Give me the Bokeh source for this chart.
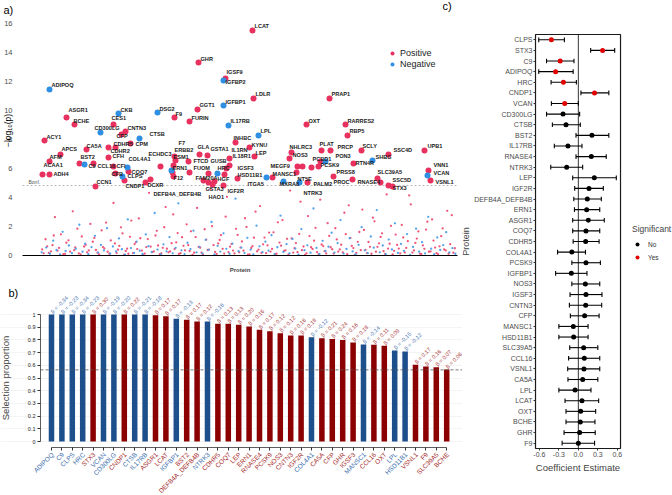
from bokeh.plotting import figure
from bokeh.layouts import row, column
from bokeh.models import ColumnDataSource, Range1d, FixedTicker, Label, Legend, LegendItem
from bokeh.embed import file_html
from bokeh.resources import INLINE
from bokeh.core.properties import value

FONT = "Liberation Sans"

# ---------------- panel a data ----------------
# labelled proteins: (name, direction, protein rank, -log10 p)
A_LABELLED = [
    ("ADIPOQ", -1, 63, 11.45), ("GHR", 1, 1106, 13.31), ("LCAT", 1, 1484, 15.52),
    ("IGSF9", 1, 1295, 12.21), ("IGFBP2", -1, 1281, 12.07), ("LDLR", 1, 1491, 10.83),
    ("IGFBP1", -1, 1281, 10.34), ("PRAP1", 1, 2023, 10.83), ("ASGR1", 1, 182, 9.52),
    ("BCHE", 1, 238, 9.03), ("CKB", -1, 546, 9.79), ("CES1", 1, 511, 9.03),
    ("CD300LG", -1, 420, 8.48), ("CNTN3", 1, 595, 8.55), ("CFP", 1, 567, 8.34),
    ("CTSB", -1, 693, 8.07), ("DSG2", -1, 819, 9.86), ("F9", 1, 938, 9.52),
    ("GGT1", 1, 1099, 10.07), ("FURIN", 1, 1043, 9.24), ("IL17RB", -1, 1316, 8.97),
    ("LPL", -1, 1526, 8.28), ("OXT", 1, 1862, 9.03), ("RARRES2", 1, 2135, 9.03),
    ("RBP5", 1, 2149, 8.28), ("ACY1", 1, 28, 7.93), ("CA5A", 1, 322, 7.31),
    ("APCS", 1, 140, 6.97), ("AFM", 1, 63, 6.48), ("CDHR5", 1, 525, 7.45),
    ("CDHR2", 1, 476, 7.45), ("CPM", 1, 630, 7.72), ("CFH", 1, 476, 6.76),
    ("COL4A1", -1, 609, 6.07), ("ECHDC3", 1, 840, 6.14), ("F7", 1, 945, 6.55),
    ("ERBB2", 1, 938, 6.83), ("GLA", 1, 1113, 6.97), ("GSTA1", 1, 1169, 6.90),
    ("INHBC", 1, 1365, 7.79), ("KYNU", 1, 1463, 7.45), ("IL1RN", 1, 1323, 6.69),
    ("LEP", 1, 1498, 6.83), ("IL18R1", 1, 1323, 6.21), ("IGSF3", 1, 1302, 6.00),
    ("NHLRC3", 1, 1757, 7.10), ("NOS3", 1, 1743, 6.69), ("PLAT", 1, 1967, 7.24),
    ("PRCP", 1, 2030, 7.24), ("PCBD1", 1, 1960, 6.48), ("PON3", -1, 1995, 6.48),
    ("PCSK9", 1, 1946, 6.14), ("SCLY", 1, 2247, 7.24), ("SHBG", -1, 2324, 6.55),
    ("SSC4D", 1, 2436, 6.97), ("UPB1", 1, 2688, 7.24), ("RTN4R", 1, 2191, 6.34),
    ("VNN1", 1, 2716, 5.86), ("VCAN", -1, 2709, 5.52), ("VSNL1", 1, 2730, 5.17),
    ("PRSS8", 1, 2051, 5.45), ("PROC", 1, 2184, 5.24), ("RNASE4", 1, 2359, 5.31),
    ("SLC39A5", 1, 2380, 5.03), ("SSC5D", 1, 2436, 4.83), ("STX3", 1, 2464, 4.76),
    ("MEGF9", 1, 1624, 5.38), ("MANSC1", -1, 1582, 5.38), ("MXRA8", -1, 1701, 5.10),
    ("NTRK3", -1, 1813, 5.03), ("NT5E", 1, 1792, 5.72), ("PALM2", 1, 1869, 5.03),
    ("HSD11B1", 1, 1288, 5.59), ("ITGA5", 1, 1379, 5.31), ("IGF2R", 1, 1281, 4.83),
    ("HRC", -1, 1239, 5.66), ("HGF", 1, 1218, 5.10), ("GUSB", 1, 1176, 5.66),
    ("GSTA3", 1, 1176, 5.03), ("HAO1", 1, 1204, 4.90), ("FAM20A", 1, 1141, 5.17),
    ("FUOM", 1, 1043, 5.72), ("FTCD", 1, 1036, 6.48), ("ERN1", 1, 924, 5.72),
    ("ESM1", 1, 931, 6.21), ("F12", 1, 931, 5.45), ("CCN1", 1, 385, 4.76),
    ("CNDP1", 1, 588, 5.17), ("CLPS", -1, 574, 5.45), ("CFB", 1, 525, 5.66),
    ("COQ7", 1, 616, 5.79), ("CFI", 1, 511, 6.14), ("CCL16", 1, 371, 6.34),
    ("BST2", 1, 273, 6.34), ("C9", -1, 308, 6.28), ("ACAA1", 1, 14, 5.59),
    ("ADH4", 1, 63, 5.59), ("DEFB4A_DEFB4B", 1, 770, 5.24), ("DCXR", 1, 735, 5.03),
    ("", 1, 1799, 6.14), ("", 1, 1834, 6.14), ("", 1, 1897, 6.07), ("", -1, 917, 5.86),
]

# remaining proteins (rank, -log10 p), positive and negative association
A_BG_POS = [
    (12, 0.42), (35, 1.12), (58, 0.18), (84, 0.71), (101, 2.64), (119, 0.33), (143, 1.46), (160, 0.09), (181, 0.88), (207, 0.27),
    (226, 3.05), (243, 0.56), (268, 0.14), (289, 1.31), (305, 0.62), (327, 0.21), (349, 2.18), (366, 0.95), (388, 0.38), (410, 0.07),
    (428, 1.73), (447, 0.49), (470, 0.26), (492, 1.04), (511, 3.62), (533, 0.17), (552, 0.66), (574, 1.52), (597, 0.31), (615, 0.12),
    (636, 2.41), (659, 0.79), (677, 0.44), (699, 1.19), (718, 0.05), (741, 0.58), (760, 4.32), (782, 0.23), (805, 1.38), (823, 0.69),
    (846, 0.15), (866, 1.95), (885, 0.47), (907, 0.28), (929, 2.83), (950, 0.91), (969, 0.11), (991, 1.26), (1012, 0.36), (1034, 0.72),
    (1053, 1.67), (1075, 0.19), (1096, 3.28), (1118, 0.54), (1137, 0.08), (1160, 1.09), (1180, 0.41), (1201, 2.02), (1222, 0.25), (1244, 0.83),
    (1263, 1.41), (1286, 0.13), (1305, 4.05), (1327, 0.61), (1348, 0.34), (1369, 1.84), (1391, 0.22), (1410, 0.97), (1432, 2.57), (1452, 0.06),
    (1475, 0.52), (1494, 1.23), (1516, 0.29), (1537, 3.41), (1558, 0.77), (1579, 0.16), (1600, 1.58), (1621, 0.45), (1643, 0.10), (1662, 2.29),
    (1684, 0.68), (1705, 0.32), (1726, 1.15), (1747, 4.48), (1769, 0.20), (1788, 0.86), (1811, 1.49), (1830, 0.37), (1852, 0.04), (1873, 2.72),
    (1894, 0.57), (1915, 1.02), (1936, 0.24), (1958, 3.85), (1979, 0.65), (2000, 0.14), (2021, 1.35), (2042, 0.43), (2064, 1.88), (2084, 0.27),
    (2105, 0.74), (2127, 2.95), (2147, 0.09), (2169, 1.21), (2190, 0.51), (2211, 0.18), (2232, 1.62), (2253, 3.17), (2275, 0.39), (2296, 0.93),
    (2317, 0.12), (2338, 2.36), (2359, 0.60), (2381, 1.28), (2401, 0.30), (2423, 4.21), (2444, 0.81), (2465, 0.07), (2486, 1.44), (2508, 0.48),
    (2529, 2.11), (2550, 0.21), (2571, 0.99), (2592, 3.52), (2614, 0.35), (2634, 1.17), (2656, 0.13), (2677, 0.70), (2699, 1.79), (2719, 0.26),
    (2741, 2.49), (2762, 0.55), (2783, 0.10), (2805, 1.33), (2826, 0.42), (2847, 3.08), (2868, 0.78), (2890, 0.19),
    (22, 0.15), (47, 0.63), (73, 0.29), (93, 1.38), (130, 0.52), (171, 0.11), (196, 1.05), (236, 0.37), (258, 1.85), (281, 0.08),
    (316, 0.74), (338, 0.35), (377, 1.21), (399, 0.19), (437, 0.58), (459, 2.27), (482, 0.12), (521, 0.83), (543, 0.40), (563, 1.94),
    (586, 0.06), (606, 0.47), (626, 1.29), (648, 0.17), (668, 0.92), (688, 2.56), (709, 0.34), (730, 0.13), (751, 1.13), (771, 0.61),
    (793, 0.28), (814, 1.70), (835, 0.09), (856, 0.53), (876, 3.34), (896, 0.22), (918, 0.85), (939, 0.44), (960, 1.55), (980, 0.16),
    (1001, 0.67), (1023, 2.15), (1044, 0.31), (1064, 0.05), (1086, 1.27), (1107, 0.59), (1127, 0.20), (1149, 1.81), (1170, 0.38), (1190, 4.61),
    (1211, 0.71), (1233, 0.11), (1254, 1.07), (1275, 0.46), (1296, 2.68), (1316, 0.24), (1338, 0.80), (1358, 0.14), (1380, 1.42), (1400, 0.55),
    (1421, 0.33), (1442, 1.97), (1463, 0.08), (1484, 0.64), (1505, 3.02), (1526, 0.40), (1547, 0.18), (1568, 1.24), (1589, 0.70), (1610, 0.27),
    (1631, 1.60), (1652, 0.12), (1673, 0.89), (1694, 2.44), (1715, 0.36), (1736, 0.07), (1758, 1.18), (1778, 0.50), (1799, 0.23), (1820, 3.71),
    (1841, 0.62), (1862, 0.15), (1883, 1.34), (1904, 0.45), (1925, 1.91), (1947, 0.10), (1968, 0.76), (1989, 0.30), (2010, 2.23), (2031, 0.57),
    (2052, 0.13), (2074, 1.11), (2095, 0.42), (2116, 0.21), (2137, 1.47), (2158, 3.46), (2179, 0.66), (2200, 0.05), (2221, 0.94), (2242, 0.37),
    (2264, 1.76), (2285, 0.17), (2306, 0.60), (2327, 2.61), (2348, 0.26), (2370, 0.84), (2391, 1.53), (2412, 0.11), (2433, 0.48), (2454, 2.05),
    (2475, 0.32), (2496, 0.73), (2518, 0.14), (2539, 1.25), (2560, 0.52), (2581, 4.14), (2603, 0.20), (2624, 0.87), (2645, 1.66), (2666, 0.09),
    (2687, 0.46), (2708, 2.33), (2730, 0.28), (2751, 1.03), (2772, 0.16), (2793, 0.63), (2815, 1.87), (2836, 0.35), (2857, 0.12), (2879, 2.78), (2900, 0.50),
]
A_BG_NEG = [
    (8, 0.22), (40, 0.55), (66, 0.12), (89, 1.02), (112, 0.38), (137, 0.07), (155, 1.63), (176, 0.31), (199, 0.69), (220, 0.16),
    (247, 0.47), (272, 2.12), (294, 0.26), (312, 0.81), (335, 0.09), (357, 0.58), (381, 1.36), (403, 0.20), (423, 0.73), (444, 0.35),
    (466, 1.88), (488, 0.13), (507, 0.62), (529, 0.28), (549, 1.18), (570, 0.43), (592, 0.06), (611, 2.49), (633, 0.51), (655, 0.18),
    (673, 0.96), (695, 0.33), (714, 0.11), (737, 1.45), (756, 0.64), (778, 0.24), (799, 2.93), (819, 0.41), (842, 0.08), (861, 0.77),
    (882, 0.29), (903, 1.27), (925, 0.15), (946, 0.53), (965, 3.60), (987, 0.36), (1008, 0.10), (1029, 0.88), (1050, 0.44), (1071, 1.71),
    (1092, 0.21), (1113, 0.60), (1133, 0.14), (1156, 1.08), (1176, 0.39), (1197, 2.31), (1218, 0.07), (1240, 0.67), (1259, 0.27), (1281, 1.53),
    (1301, 0.46), (1323, 0.12), (1344, 0.82), (1365, 3.92), (1386, 0.30), (1406, 0.55), (1428, 0.17), (1448, 1.22), (1471, 0.40), (1490, 0.08),
    (1512, 2.06), (1533, 0.63), (1554, 0.23), (1574, 0.95), (1596, 0.34), (1617, 1.40), (1638, 0.10), (1658, 0.57), (1680, 2.75), (1700, 0.25),
    (1722, 0.78), (1743, 0.15), (1764, 1.14), (1784, 0.48), (1806, 0.06), (1826, 1.82), (1848, 0.37), (1868, 0.70), (1890, 0.19), (1911, 3.24),
    (1932, 0.52), (1953, 0.11), (1975, 1.01), (1995, 0.31), (2016, 0.61), (2038, 1.57), (2058, 0.20), (2080, 0.86), (2100, 2.44), (2122, 0.13),
    (2142, 0.45), (2164, 1.19), (2185, 0.28), (2206, 0.07), (2227, 0.74), (2248, 1.95), (2270, 0.36), (2291, 0.16), (2312, 1.31), (2333, 0.54),
    (2354, 3.13), (2375, 0.22), (2396, 0.69), (2417, 0.10), (2438, 1.10), (2460, 0.42), (2481, 2.22), (2502, 0.18), (2523, 0.80), (2544, 0.32),
    (2566, 1.48), (2587, 0.05), (2608, 0.59), (2629, 1.85), (2650, 0.27), (2671, 0.92), (2692, 0.14), (2714, 2.67), (2735, 0.47), (2756, 0.09),
    (2777, 1.25), (2798, 0.38), (2819, 0.72), (2840, 1.61), (2862, 0.21), (2883, 0.51), (2904, 0.12),
]
A_BONFERRONI = 4.83
A_YTICKS = [0, 2, 4, 6, 8, 10, 12, 14, 16]

# ---------------- panel b data ----------------
B_PROTEINS = ["ADIPOQ", "C9", "CLPS", "HRC", "STX3", "VCAN", "CD300LG", "CNDP1", "CTSB", "IL17RB",
              "ASGR1", "LCAT", "IGFBP1", "BST2", "DEFB4A_DEFB4B", "NTRK3", "CDHR5", "COQ7", "LEP", "ERN1",
              "RNASE4", "PCSK9", "NOS3", "CNTN3", "IGF2R", "COL4A1", "CA5A", "CFP", "GHR", "IGSF3",
              "MANSC1", "CCL16", "OXT", "LPL", "HSD11B1", "VSNL1", "F9", "SLC39A5", "BCHE"]
B_SELECTION = [1.0, 1.0, 1.0, 1.0, 1.0, 1.0, 1.0, 1.0, 1.0, 1.0,
               0.995, 0.987, 0.966, 0.958, 0.945, 0.945, 0.927, 0.927, 0.919, 0.906,
               0.880, 0.869, 0.853, 0.835, 0.835, 0.820, 0.814, 0.808, 0.800, 0.780,
               0.764, 0.761, 0.753, 0.717, 0.709, 0.605, 0.590, 0.585, 0.567]
B_BETA = [-0.34, -0.23, -0.34, -0.23, 0.30, -0.19, -0.20, 0.22, -0.21, -0.18,
          0.17, 0.17, -0.13, 0.17, 0.12, -0.16, 0.13, 0.13, 0.20, 0.16,
          0.17, 0.12, 0.12, 0.16, 0.18, -0.12, 0.21, 0.24, 0.16, 0.18,
          -0.14, 0.11, 0.09, -0.15, -0.12, 0.17, 0.16, 0.07, 0.06]
B_THRESHOLD = 0.564
B_YTICKS = [0.0, 0.1, 0.2, 0.3, 0.4, 0.5, 0.6, 0.7, 0.8, 0.9, 1.0]

# ---------------- panel c data ----------------
C_PROTEINS = ["CLPS", "STX3", "C9", "ADIPOQ", "HRC", "CNDP1", "VCAN", "CD300LG", "CTSB", "BST2",
              "IL17RB", "RNASE4", "NTRK3", "LEP", "IGF2R", "DEFB4A_DEFB4B", "ERN1", "ASGR1", "COQ7", "CDHR5",
              "COL4A1", "PCSK9", "IGFBP1", "NOS3", "IGSF3", "CNTN3", "CFP", "MANSC1", "HSD11B1", "SLC39A5",
              "CCL16", "VSNL1", "CA5A", "LPL", "LCAT", "OXT", "BCHE", "GHR", "F9"]
C_ESTIMATE = [-0.415, 0.374, -0.28, -0.35, -0.23, 0.25, -0.21, -0.236, -0.19, 0.21,
              -0.16, 0.20, -0.18, 0.246, 0.164, 0.138, 0.128, 0.154, 0.118, 0.113,
              -0.10, 0.118, -0.108, 0.108, 0.118, 0.113, 0.097, -0.077, -0.072, 0.082,
              0.092, 0.087, 0.067, -0.05, 0.056, 0.036, 0.03, 0.02, 0.0]
C_LOWER = [-0.61, 0.19, -0.49, -0.61, -0.42, 0.04, -0.415, -0.49, -0.40, -0.036,
           -0.37, -0.036, -0.425, -0.087, -0.056, -0.07, -0.06, -0.087, -0.087, -0.08,
           -0.32, -0.10, -0.35, -0.10, -0.128, -0.138, -0.123, -0.30, -0.30, -0.133,
           -0.15, -0.164, -0.16, -0.30, -0.205, -0.19, -0.19, -0.22, -0.25]
C_UPPER = [-0.215, 0.56, -0.067, -0.08, -0.03, 0.47, 0.0, 0.02, 0.03, 0.47,
           0.056, 0.43, 0.067, 0.585, 0.385, 0.354, 0.33, 0.40, 0.33, 0.32,
           0.11, 0.34, 0.133, 0.33, 0.364, 0.36, 0.32, 0.15, 0.15, 0.30,
           0.33, 0.33, 0.30, 0.195, 0.313, 0.267, 0.256, 0.26, 0.25]
C_SIGNIFICANT = ["Yes"] * 7 + ["No"] * 32
C_XTICKS = [-0.6, -0.3, 0.0, 0.3, 0.6]
C_XLIM = (-0.66, 0.65)

# ---------------- styles ----------------
RED_A, BLUE_A = "#E8315E", "#2E8FE3"
RED_A_BG, BLUE_A_BG = "#F0557A", "#52A3EC"
RED_B, BLUE_B = "#8B0000", "#1C4F8C"
RED_B_TXT, BLUE_B_TXT = "#A52A2A", "#3A6DAD"
AXIS_TXT = "#4D4D4D"

# label nudges (screen px; +dy is downward) for panel a text labels
NUDGE = {
    "ADIPOQ": (2, -4), "ASGR1": (2, -7), "BCHE": (-1, -4), "CES1": (-2, -7), "CD300LG": (-6, -5),
    "CFP": (-5, 1), "CTSB": (10, -4), "F9": (1, -3), "CA5A": (0, -4), "APCS": (1, -5), "AFM": (0, -5),
    "CDHR5": (-2, -3), "CDHR2": (2, 4), "CPM": (5, 0), "CFH": (4, -1), "COL4A1": (1, -8),
    "ECHDC3": (-12, -12), "F7": (3, -18), "ERBB2": (0, -6), "ESM1": (0, -8), "ERN1": (0, -5),
    "F12": (0, 2), "FTCD": (5, -1), "FUOM": (4, -5), "FAM20A": (-8, -3), "GUSB": (2, -12),
    "HRC": (0, -5), "HGF": (3, -3), "GSTA3": (-3, 6), "HAO1": (-4, 13), "GLA": (-2, -7),
    "GSTA1": (3, -6), "IL18R1": (3, -9), "IGSF3": (11, -1), "HSD11B1": (13, 1), "ITGA5": (10, 5),
    "IGF2R": (4, 6), "MEGF9": (-2, -11), "MANSC1": (6, -3), "MXRA8": (-4, 2), "NTRK3": (4, 10),
    "NT5E": (1, 6), "PALM2": (6, 1), "PRSS8": (3, -4), "PROC": (-19, 2), "RNASE4": (-20, 3),
    "SLC39A5": (-3, -11), "SSC5D": (4, -5), "STX3": (0, 2), "RTN4R": (2, -1), "SHBG": (3, -4),
    "SSC4D": (5, -4), "UPB1": (3, -5), "VNN1": (5, -6), "VCAN": (6, -2), "VSNL1": (5, 1),
    "SCLY": (1, -5), "PRCP": (7, -4), "PLAT": (-2, -7), "NHLRC3": (-2, -6), "NOS3": (3, -3),
    "PCBD1": (-8, -3), "PON3": (10, -6), "PCSK9": (2, -1), "KYNU": (2, -2), "LEP": (1, -3),
    "INHBC": (-2, -5), "IL1RN": (2, -8), "BST2": (1, -7), "C9": (4, 2), "CCL16": (4, 2),
    "CFI": (3, 0), "COQ7": (3, 0), "CFB": (-4, 1), "CLPS": (5, 0), "CNDP1": (1, 5), "CCN1": (1, -4),
    "ACAA1": (1, -9), "ADH4": (4, 0), "DEFB4A_DEFB4B": (3, 14), "DCXR": (2, 2), "IGSF9": (1, -6),
    "IGFBP2": (2, 2),
}

# axis placement inside the full-canvas frames (data units)
A_YAXIS_AT, A_XAXIS_END = -126, 2919
B_YAXIS_AT, B_XAXIS_AT = -1.058, -0.047


def bare(p):
    p.min_border_left = p.min_border_right = p.min_border_top = p.min_border_bottom = 0
    p.outline_line_color = None
    p.grid.visible = False


# ================= panel a =================
pa = figure(width=462, height=278, x_range=Range1d(-280, 2954), y_range=Range1d(-1.586, 17.586),
            output_backend="svg", toolbar_location=None)
bare(pa)
pa.yaxis.fixed_location = A_YAXIS_AT
pa.yaxis.ticker = FixedTicker(ticks=A_YTICKS)
pa.yaxis.axis_line_color = None
pa.yaxis.major_tick_line_color = None
pa.yaxis.minor_tick_line_color = None
pa.yaxis.major_label_text_font_size = "7.5px"
pa.yaxis.major_label_text_color = AXIS_TXT
pa.yaxis.major_label_text_font = FONT
pa.yaxis.major_label_standoff = 4
pa.add_layout(Label(x=7, y=148, x_units="screen", y_units="screen", text="\u2212log\u2081\u2080(p)",
                    angle=90, angle_units="deg", text_align="center", text_baseline="middle",
                    text_font=FONT, text_font_size="8.5px", text_color="black"))
pa.xaxis.fixed_location = 0
pa.xaxis.bounds = (A_YAXIS_AT, A_XAXIS_END)
pa.xaxis.ticker = FixedTicker(ticks=[A_YAXIS_AT])
pa.xaxis.major_tick_line_color = None
pa.xaxis.minor_tick_line_color = None
pa.xaxis.major_label_overrides = {A_YAXIS_AT: ""}
pa.xaxis.major_label_text_font_size = "1px"
pa.xaxis.major_label_standoff = 0
pa.xaxis.axis_line_color = "black"
pa.xaxis.axis_line_width = 1
pa.xaxis.axis_label = "Protein"
pa.xaxis.axis_label_text_font = FONT
pa.xaxis.axis_label_text_font_size = "6px"
pa.xaxis.axis_label_text_font_style = "bold"
pa.xaxis.axis_label_standoff = 5

pa.scatter([p[0] for p in A_BG_POS], [p[1] for p in A_BG_POS], size=2.3,
           fill_color=RED_A_BG, line_color=None)
pa.scatter([p[0] for p in A_BG_NEG], [p[1] for p in A_BG_NEG], size=2.3,
           fill_color=BLUE_A_BG, line_color=None)

pa.segment(x0=[A_YAXIS_AT], x1=[A_XAXIS_END], y0=[A_BONFERRONI], y1=[A_BONFERRONI],
           line_color="#9A9A9A", line_width=0.7, line_dash="2 2")
pa.add_layout(Label(x=A_YAXIS_AT, y=A_BONFERRONI, x_offset=6, y_offset=0, text="Bonf.",
                    text_font=FONT, text_font_size="5px", text_color="#555555",
                    text_baseline="bottom"))

pos = [r for r in A_LABELLED if r[1] > 0]
neg = [r for r in A_LABELLED if r[1] < 0]
r_pos = pa.scatter([r[2] for r in pos], [r[3] for r in pos], size=6, fill_color=RED_A, line_color=None)
r_neg = pa.scatter([r[2] for r in neg], [r[3] for r in neg], size=6, fill_color=BLUE_A, line_color=None)

lab = [r for r in A_LABELLED if r[0]]
lab_src = ColumnDataSource(dict(
    x=[r[2] for r in lab], y=[r[3] for r in lab], t=[r[0] for r in lab],
    dx=[NUDGE.get(r[0], (2, -4))[0] for r in lab], dy=[NUDGE.get(r[0], (2, -4))[1] for r in lab]))
pa.text(x="x", y="y", text="t", x_offset="dx", y_offset="dy", source=lab_src,
        text_font=value(FONT), text_font_size="5.6px", text_font_style="bold",
        text_color="#1a1a1a", text_align="left", text_baseline="middle")

leg_a = Legend(items=[LegendItem(label="Positive", renderers=[r_pos]),
                      LegendItem(label="Negative", renderers=[r_neg])],
               location=(387, 209), padding=0, margin=0, spacing=1,
               glyph_width=10, glyph_height=10, label_standoff=3,
               label_text_font=FONT, label_text_font_size="9px", label_text_color="#222222",
               border_line_color=None, background_fill_alpha=0)
pa.add_layout(leg_a)

pa.add_layout(Label(x=3, y=263, x_units="screen", y_units="screen", text="a)",
                    text_font=FONT, text_font_size="11px", text_color="black"))
pa.add_layout(Label(x=442, y=267, x_units="screen", y_units="screen", text="c)",
                    text_font=FONT, text_font_size="11px", text_color="black"))

# ================= panel b =================
nb = len(B_PROTEINS)
b_idx = list(range(nb))
b_src = ColumnDataSource(dict(
    i=b_idx, sel=B_SELECTION, name=B_PROTEINS,
    col=[RED_B if b > 0 else BLUE_B for b in B_BETA],
    txt=[RED_B_TXT if b > 0 else BLUE_B_TXT for b in B_BETA],
    beta=["\u03b2 = %.2f" % b for b in B_BETA],
    base=[B_XAXIS_AT] * nb))

pb = figure(width=462, height=217, x_range=Range1d(-4.904, 39.52), y_range=Range1d(-0.4252, 1.2835),
            output_backend="svg", toolbar_location=None)
bare(pb)
pb.ygrid.visible = True
pb.ygrid.ticker = FixedTicker(ticks=B_YTICKS)
pb.ygrid.grid_line_color = "#EDEDED"
pb.ygrid.grid_line_width = 0.6

pb.vbar(x="i", top="sel", bottom=0, width=0.53, fill_color="col", line_color=None, source=b_src)
pb.segment(x0=[B_YAXIS_AT], x1=[pb.x_range.end], y0=[B_THRESHOLD], y1=[B_THRESHOLD],
           line_color="#555555", line_width=0.8, line_dash="3 2")

pb.yaxis.fixed_location = B_YAXIS_AT
pb.yaxis.ticker = FixedTicker(ticks=B_YTICKS)
pb.yaxis.bounds = (0, 1)
pb.yaxis.axis_line_color = "#333333"
pb.yaxis.axis_line_width = 0.8
pb.yaxis.major_tick_out = 3
pb.yaxis.major_tick_in = 0
pb.yaxis.major_tick_line_color = "#333333"
pb.yaxis.minor_tick_line_color = None
pb.yaxis.major_label_text_font = FONT
pb.yaxis.major_label_text_font_size = "5.5px"
pb.yaxis.major_label_text_color = "#222222"
pb.yaxis.major_label_standoff = 2
pb.yaxis.axis_label = "Selection proportion"
pb.yaxis.axis_label_text_font = FONT
pb.yaxis.axis_label_text_font_size = "9.5px"
pb.yaxis.axis_label_text_font_style = "normal"
pb.yaxis.axis_label_standoff = 14

pb.xaxis.fixed_location = B_XAXIS_AT
pb.xaxis.ticker = FixedTicker(ticks=b_idx)
pb.xaxis.bounds = (0, nb - 1)
pb.xaxis.axis_line_color = "#333333"
pb.xaxis.axis_line_width = 0.8
pb.xaxis.major_tick_out = 3
pb.xaxis.major_tick_in = 0
pb.xaxis.major_tick_line_color = "#333333"
pb.xaxis.minor_tick_line_color = None
pb.xaxis.major_label_overrides = {i: "" for i in b_idx}
pb.xaxis.major_label_text_font_size = "1px"

pb.text(x="i", y="base", text="name", source=b_src, angle=45, angle_units="deg",
        text_align="right", text_baseline="middle", x_offset=1, y_offset=6,
        text_font=value(FONT), text_font_size="6.5px", text_color="txt")
pb.text(x="i", y="sel", text="beta", source=b_src, angle=45, angle_units="deg",
        text_align="left", text_baseline="middle", x_offset=0, y_offset=-2,
        text_font=value(FONT), text_font_size="5.5px", text_color="txt")
pb.add_layout(Label(x=8, y=197, x_units="screen", y_units="screen", text="b)",
                    text_font=FONT, text_font_size="11px", text_color="black"))

# ================= panel c =================
nc = len(C_PROTEINS)
c_rowpos = [nc - 1 - i for i in range(nc)]
c_src = ColumnDataSource(dict(
    y=c_rowpos, est=C_ESTIMATE, lo=C_LOWER, hi=C_UPPER,
    y0=[r - 0.22 for r in c_rowpos], y1=[r + 0.22 for r in c_rowpos]))
row_lo, row_hi = -0.5, nc - 0.5

pc = figure(width=210, height=495, x_range=Range1d(-1.785, 1.451), y_range=Range1d(-4.928, 41.703),
            output_backend="svg", toolbar_location=None)
bare(pc)
pc.quad(left=[C_XLIM[0]], right=[C_XLIM[1]], bottom=[row_lo], top=[row_hi],
        fill_color=None, line_color="#1a1a1a", line_width=1.2)
pc.segment(x0=[0], x1=[0], y0=[row_lo], y1=[row_hi], line_color="black", line_width=0.8)
pc.segment(x0="lo", x1="hi", y0="y", y1="y", source=c_src, line_color="black", line_width=1.1)
pc.segment(x0="lo", x1="lo", y0="y0", y1="y1", source=c_src, line_color="black", line_width=1.1)
pc.segment(x0="hi", x1="hi", y0="y0", y1="y1", source=c_src, line_color="black", line_width=1.1)

no_idx = [i for i, s in enumerate(C_SIGNIFICANT) if s == "No"]
yes_idx = [i for i, s in enumerate(C_SIGNIFICANT) if s == "Yes"]
r_no = pc.scatter([C_ESTIMATE[i] for i in no_idx], [c_rowpos[i] for i in no_idx],
                  size=5, fill_color="black", line_color=None)
r_yes = pc.scatter([C_ESTIMATE[i] for i in yes_idx], [c_rowpos[i] for i in yes_idx],
                   size=5, fill_color="#E00000", line_color=None)

for ax in (pc.xaxis, pc.yaxis):
    ax.axis_line_color = None
    ax.major_tick_out = 2
    ax.major_tick_in = 0
    ax.major_tick_line_color = "#333333"
    ax.minor_tick_line_color = None
    ax.major_label_text_font = FONT
    ax.major_label_text_color = AXIS_TXT
    ax.major_label_text_font_size = "7px"
    ax.axis_label_text_font = FONT
    ax.axis_label_text_font_style = "normal"
    ax.axis_label_text_font_size = "9px"
pc.yaxis.fixed_location = C_XLIM[0]
pc.yaxis.bounds = (row_lo, row_hi)
pc.yaxis.ticker = FixedTicker(ticks=c_rowpos)
pc.yaxis.major_label_overrides = {y: n for y, n in zip(c_rowpos, C_PROTEINS)}
pc.yaxis.major_label_standoff = 1
pc.yaxis.axis_label = "Protein"
pc.yaxis.axis_label_standoff = 0
pc.xaxis.fixed_location = row_lo
pc.xaxis.bounds = C_XLIM
pc.xaxis.ticker = FixedTicker(ticks=C_XTICKS)
pc.xaxis.major_label_overrides = {t: ("%.1f" % t) for t in C_XTICKS}
pc.xaxis.major_label_standoff = 2
pc.xaxis.axis_label = "Coefficient Estimate"
pc.xaxis.axis_label_text_font_size = "9.5px"
pc.xaxis.axis_label_standoff = 1

leg_c = Legend(items=[LegendItem(label="No", renderers=[r_no]),
                      LegendItem(label="Yes", renderers=[r_yes])],
               title="Significant", location=(170, 233), padding=0, margin=0, spacing=3,
               glyph_width=10, glyph_height=10, label_standoff=6, title_standoff=5,
               title_text_font=FONT, title_text_font_size="8.5px", title_text_font_style="normal",
               label_text_font=FONT, label_text_font_size="6.5px", label_text_color="#333333",
               border_line_color=None, background_fill_alpha=0)
pc.add_layout(leg_c)

layout = row(column(pa, pb), pc)
open("out.html", "w").write(file_html(layout, INLINE))
